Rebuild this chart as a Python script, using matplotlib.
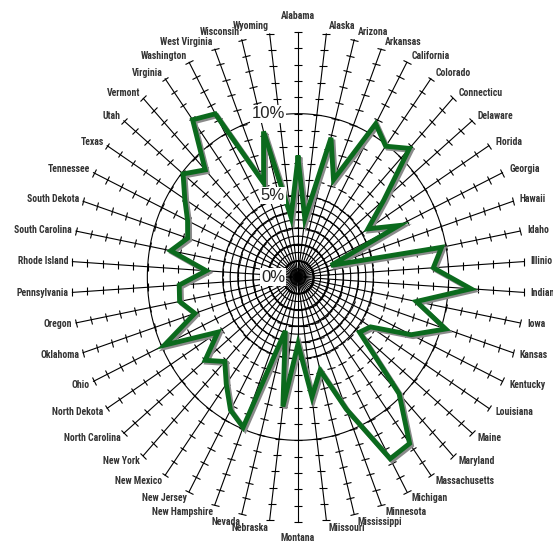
import numpy as np
import matplotlib.pyplot as plt
import matplotlib.patheffects as pe
from matplotlib.markers import MarkerStyle
from matplotlib import font_manager


# Share per state (%), clockwise from the top
states = ["Alabama", "Alaska", "Arizona", "Arkansas", "California", "Colorado",
          "Connecticu", "Delaware", "Florida", "Georgia", "Hawaii", "Idaho",
          "Illinio", "Indiana", "Iowa", "Kansas", "Kentucky", "Louisiana",
          "Maine", "Maryland", "Massachusetts", "Michigan", "Minnesota",
          "Mississippi", "Miissouri", "Montana", "Nebraska", "Nevada",
          "New Hampshire", "New Jersey", "New Mexico", "New York",
          "North Carolina", "North Dekota", "Ohio", "Oklahoma", "Oregon",
          "Pennsylvania", "Rhode Island", "South Carolina", "South Dekota",
          "Tennessee", "Texas", "Utah", "Vermont", "Virginia", "Washington",
          "West Virginia", "Wisconsin", "Wyoming"]
share = [7.3, 3.6, 8.8, 6.4, 10.7, 9.9,
         10.8, 7.4, 5.5, 7.4, 2.3, 9.7,
         9.0, 11.5, 8.0, 10.3, 8.3, 5.7,
         5.3, 9.8, 12.6, 12.7, 8.7,
         5.9, 7.4, 4.1, 8.0, 3.4,
         9.9, 9.3, 8.1, 7.1,
         8.0, 6.3, 9.8, 7.2, 8.0,
         7.9, 6.1, 8.6, 7.7,
         8.1, 8.9, 9.9, 9.0, 11.9, 11.4,
         6.2, 9.2, 3.7]

rings = [0.5, 1.0, 1.5, 2.0, 2.5, 3.0, 3.5, 4.0, 4.5, 5.0, 10.0]
ring_labels = [0, 5, 10]
ticks = list(range(1, 16))
r_max = 15

W, H = 553, 542
fig = plt.figure(figsize=(W / 100, H / 100), dpi=100)
ax = fig.add_axes([0, 0, 1, 1])
ax.axis("off")

# the web is centred right of middle and drawn a little taller than wide
cx, cy = 298, 277            # centre (px from left / top)
sx, sy = 226 / 15, 245 / 15  # px per percent
ax.set_xlim(-cx / sx, (W - cx) / sx)
ax.set_ylim(-(H - cy) / sy, cy / sy)

n = len(states)
theta = 2 * np.pi * np.arange(n) / n
ux, uy = np.sin(theta), np.cos(theta)

# rings
t = np.linspace(0, 2 * np.pi, 400)
for r in rings:
    ax.plot(r * np.sin(t), r * np.cos(t), color="black", lw=0.8, zorder=1)

# narrow font if there is one, else shrink the normal one to the same width
installed = {f.name for f in font_manager.fontManager.ttflist}
if "Liberation Sans Narrow" in installed:
    label_font, label_size = ["Liberation Sans Narrow", "DejaVu Sans"], 7
elif "Roboto Condensed" in installed:
    label_font, label_size = ["Roboto Condensed", "DejaVu Sans"], 7
else:
    label_font, label_size = ["Roboto", "DejaVu Sans"], 6.4

tk = np.array(ticks)
for i, name in enumerate(states):
    ax.plot([0, r_max * ux[i]], [0, r_max * uy[i]], color="black", lw=0.8, zorder=1)
    # ticks sit across the spoke, so turn the marker with the spoke on screen
    ang = np.degrees(np.arctan2(uy[i] * sy, ux[i] * sx))
    m = MarkerStyle("_").rotated(deg=ang + 90)
    ax.plot(tk * ux[i], tk * uy[i], ls="", marker=m, ms=6, mew=0.8,
            color="black", zorder=1)

    # state name just beyond the end of the spoke
    if abs(ux[i]) < 0.05:
        ha, dx, dy = "center", 0, 16 * np.sign(uy[i])
    elif ux[i] > 0:
        ha, dx, dy = "left", 2 + 5 * ux[i], 7.5 * uy[i]
    else:
        ha, dx, dy = "right", -(1 + 3 * abs(ux[i])), 7.5 * uy[i]
    ax.annotate(name, xy=(r_max * ux[i], r_max * uy[i]),
                xytext=(dx * 0.72, dy * 0.72), textcoords="offset points",
                ha=ha, va="center", fontsize=label_size, fontweight="bold",
                color="#333333", family=label_font)

# the data line, with a grey drop shadow
vals = np.array(share + share[:1])
tx = np.append(ux, ux[0])
ty = np.append(uy, uy[0])
ax.plot(vals * tx, vals * ty, color="#0b6a1d", lw=3.5, solid_joinstyle="miter",
        zorder=3,
        path_effects=[pe.SimpleLineShadow(offset=(1.4, -1.4), shadow_color="#8a8a8a", alpha=1),
                      pe.Normal()])

for v in ring_labels:
    ax.annotate(f"{v}%", xy=(0, v), xytext=(-13 * 0.72, 0), textcoords="offset points",
                ha="right", va="center", fontsize=12, color="#222222",
                family=["Liberation Sans", "DejaVu Sans"], zorder=4,
                bbox=dict(boxstyle="square,pad=0.08", fc="white", ec="none"))

fig.savefig("out.png", dpi=100)
